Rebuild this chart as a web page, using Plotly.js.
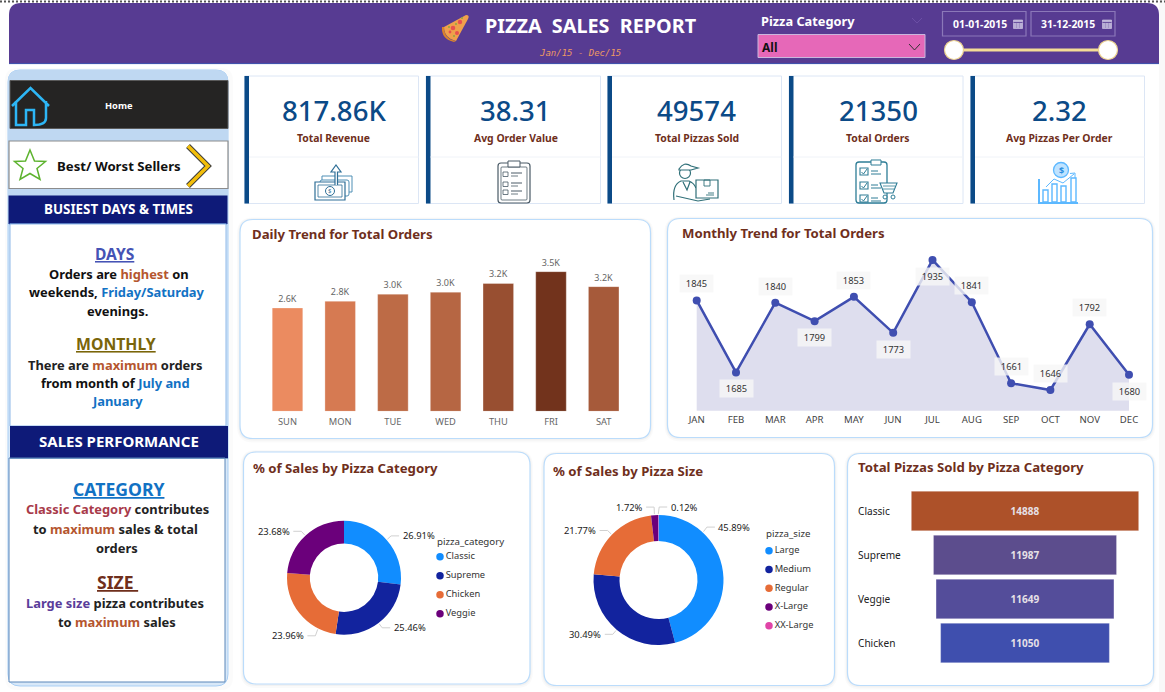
<!DOCTYPE html>
<html><head><meta charset="utf-8">
<script src="https://cdn.plot.ly/plotly-3.0.1.min.js"></script>
<style>html,body{margin:0;padding:0;background:#fff;overflow:hidden}#g{width:1165px;height:692px}</style>
</head><body><div id="g"></div>
<script>
// ---------- data ----------
const days = ["SUN","MON","TUE","WED","THU","FRI","SAT"];
const dayOrders = [2620,2790,2970,3020,3240,3540,3160];
const dayLabels = ["2.6K","2.8K","3.0K","3.0K","3.2K","3.5K","3.2K"];
const dayColors = ["#EB8B60","#D67A52","#BD6B46","#B66643","#984F31","#72331C","#A65A3A"];
const months = ["JAN","FEB","MAR","APR","MAY","JUN","JUL","AUG","SEP","OCT","NOV","DEC"];
const monthOrders = [1845,1685,1840,1799,1853,1773,1935,1841,1661,1646,1792,1680];
const monthLabelAbove = [1,0,1,0,1,0,0,1,1,1,1,0];
const catNames = ["Classic","Supreme","Chicken","Veggie"];
const catShares = [26.91,25.46,23.96,23.68];
const catColors = ["#118DFF","#12239E","#E66C37","#6B007B"];
const sizeNames = ["Large","Medium","Regular","X-Large","XX-Large"];
const sizeShares = [45.89,30.49,21.77,1.72,0.12];
const sizeColors = ["#118DFF","#12239E","#E66C37","#6B007B","#E044A7"];
const funnelCats = ["Classic","Supreme","Veggie","Chicken"];
const funnelVals = [14888,11987,11649,11050];
const funnelColors = ["#AD5129","#5C4D8D","#544D9A","#3F4FAE"];
const kpiValues = ["817.86K","38.31","49574","21350","2.32"];
const kpiNames = ["Total Revenue","Avg Order Value","Total Pizzas Sold","Total Orders","Avg Pizzas Per Order"];

// ---------- helpers ----------
const W=1165,H=692,FONT='"Noto Sans","Open Sans",sans-serif';
const fx=x=>x/W, fy=y=>1-y/H;
const shapes=[],annos=[];
const pathOf=d=>d.replace(/(-?[\d.]+)[ ,](-?[\d.]+)/g,(m,a,b)=>fx(+a).toFixed(5)+","+fy(+b).toFixed(5));
function P(d,o={}){shapes.push({type:"path",xref:"paper",yref:"paper",path:pathOf(d),fillcolor:o.fill||"rgba(0,0,0,0)",opacity:o.op==null?1:o.op,line:{color:o.stroke||"rgba(0,0,0,0)",width:o.w==null?(o.stroke?1:0):o.w},layer:"below"});}
function R(x0,y0,x1,y1,o={}){shapes.push({type:"rect",xref:"paper",yref:"paper",x0:fx(x0),x1:fx(x1),y0:fy(y0),y1:fy(y1),fillcolor:o.fill||"rgba(0,0,0,0)",opacity:o.op==null?1:o.op,line:{color:o.stroke||"rgba(0,0,0,0)",width:o.w==null?(o.stroke?1:0):o.w},layer:"below"});}
function C(cx,cy,r,o={}){shapes.push({type:"circle",xref:"paper",yref:"paper",x0:fx(cx-r),x1:fx(cx+r),y0:fy(cy-r),y1:fy(cy+r),fillcolor:o.fill||"rgba(0,0,0,0)",line:{color:o.stroke||"rgba(0,0,0,0)",width:o.w==null?(o.stroke?1:0):o.w},layer:"below"});}
function L(x0,y0,x1,y1,color,w,dash){shapes.push({type:"line",xref:"paper",yref:"paper",x0:fx(x0),x1:fx(x1),y0:fy(y0),y1:fy(y1),line:{color,width:w||1,dash:dash||"solid"},layer:"below"});}
function rr(x0,y0,x1,y1,tl,tr,br,bl){
  if(tr==null){tr=br=bl=tl;}
  return `M${x0+tl} ${y0} L${x1-tr} ${y0} Q${x1} ${y0} ${x1} ${y0+tr} L${x1} ${y1-br} Q${x1} ${y1} ${x1-br} ${y1} L${x0+bl} ${y1} Q${x0} ${y1} ${x0} ${y1-bl} L${x0} ${y0+tl} Q${x0} ${y0} ${x0+tl} ${y0} Z`;
}
function T(x,y,text,size,color,anchor,extra){annos.push(Object.assign({xref:"paper",yref:"paper",x:fx(x),y:fy(y),text,showarrow:false,xanchor:anchor||"center",yanchor:"middle",align:anchor||"center",borderpad:0,font:{family:FONT,size,color}},extra||{}));}
function card(x0,y0,x1,y1,r){
  P(rr(x0-3,y0-2,x1+3,y1+4,r+3),{fill:"#000",op:0.02});
  P(rr(x0-1.5,y0-1,x1+1.5,y1+2,r+1),{fill:"#000",op:0.03});
  P(rr(x0,y0,x1,y1,r),{fill:"#fff",stroke:"#BBDCFB",w:1.2});
}

// ---------- page furniture ----------
R(1159,0,1165,692,{fill:"#F9F9F9"});
L(0,1.5,1165,1.5,"#555",2,"2px,2px");
P(rr(9,3,1159,64,12,12,0,0),{fill:"#573B92"});
L(9,63.6,1159,63.6,"#3E55B0",1);
// pizza icon
P("M444 27 L466 15 Q470 15 468 19 L456 41 Q444 38 444 27 Z",{fill:"#F0A04B"});
P("M444 27 Q444 39 456 41 L454 42 Q441 39 442 27 Z",{fill:"#D9822B"});
[[453,28,2.3],[460,22,2.2],[457,33,2],[450,32,1.4]].forEach(c=>C(c[0],c[1],c[2],{fill:"#E8504F"}));
[[456,24,1],[462,18,1],[449,27,1],[454,36,1]].forEach(c=>C(c[0],c[1],c[2],{fill:"#8FA63E"}));
T(591,25.5,"<b>PIZZA  SALES  REPORT</b>",19.8,"#fff","center");
T(580,53,"<i>Jan/15 - Dec/15</i>",9,"#EE9A62","center");
annos[annos.length-1].font.family='"DejaVu Sans Mono",monospace';
T(759.5,20.5,"<b>Pizza Category</b>",12.8,"#fff","left");
P("M912 18 L917 23 L922 18",{stroke:"#6C4FA6",w:1});
R(758,34.5,925,57.5,{fill:"#E668B8",stroke:"#C9B6DE",w:1});
T(761,47.5,"<b>All</b>",12,"#111","left");
P("M909 44 L914.5 50 L920 44",{stroke:"#333",w:1});
R(942.5,11.5,1026,36,{stroke:"#8B78B9",w:1.2});
R(1031,11.5,1115,36,{stroke:"#8B78B9",w:1.2});
T(979.5,24,"<b>01-01-2015</b>",10.4,"#fff");
T(1068,24,"<b>31-12-2015</b>",10.4,"#fff");
[1013.5,1102.5].forEach(x=>{R(x,20,x+9,28.5,{fill:"#B9AFD6",stroke:"#D8D0E8",w:.6});L(x,22.5,x+9,22.5,"#573B92",.8);L(x+3,23,x+3,28,"#8A7BB5",.5);L(x+6,23,x+6,28,"#8A7BB5",.5);});
L(954,50,1108,50,"#F4DD96",3);
[954,1108].forEach(x=>C(x,50,9.5,{fill:"#fff",stroke:"#EBD28F",w:1.2}));

// sidebar
P(rr(5,68,233,690,12),{fill:"#000",op:0.015});
P(rr(8,70,228,686,12),{fill:"#D8E8F8",stroke:"#A9CFF5",w:1});
P(rr(8,70,228,200,12,12,0,0),{fill:"#BFD8F2"});
R(10,80.5,228,128.5,{fill:"#252423",stroke:"#5A5A5A",w:1});
P("M12 106 L30.5 88 L49 106 M16 101 L16 125 L26 125 L26 110 L34 110 L34 125 Q46 125 46 118 L46 101",{stroke:"#2DB6F5",w:2.5});
T(118.5,105,"<b>Home</b>",9.3,"#fff");
R(9,141,228,188.5,{fill:"#fff",stroke:"#8C8C8C",w:1.2});
P("M30 150 L34.5 161 L45.5 161.5 L37 168.5 L40 179.5 L30 173.5 L20 179.5 L23 168.5 L14.500 161.500 L25.500 161 Z",{stroke:"#5DB32E",w:1.5});
P("M188 146 L208 166 L188 186",{stroke:"#3A3A3A",w:5.5});
P("M188 146 L208 166 L188 186",{stroke:"#F2BE0A",w:3.5});
T(118.5,166,"<b>Best/ Worst Sellers</b>",13.2,"#111");
R(8.500,195.5,227.500,224,{fill:"#0E1A78"});
L(9,224,227,224,"#3E6CC0",1);
T(118,209,"<b>BUSIEST DAYS &amp; TIMES</b>",13.4,"#fff");
R(10,224,226,426,{fill:"#fff",stroke:"#8EB8E8",w:1});
R(10,426,228,458,{fill:"#0E1A78"});
T(118.5,441,"<b>SALES PERFORMANCE</b>",15,"#fff");
R(9,458,225,682,{fill:"#fff",stroke:"#5B86B8",w:1});
R(10,458,228,458.8,{fill:"#5B86B8"});
const org='#B5562F',blu='#1272C4';
const sp=(c,t)=>`<span style="color:${c}">${t}</span>`;
const BODY=12.9;
T(114.5,253.5,"<b><u>DAYS</u></b>",15.6,"#4553B5");
T(118.5,273.5,"<b>Orders are "+sp(org,"highest")+" on</b>",BODY,"#111");
T(117,292,"<b>weekends, "+sp(blu,"Friday/Saturday")+"</b>",BODY,"#111");
T(117,310.5,"<b>evenings.</b>",BODY,"#111");
T(116,344.5,"<b><u>MONTHLY</u></b>",15.8,"#7A6509");
T(115,364.5,"<b>There are "+sp(org,"maximum")+" orders</b>",BODY,"#222");
T(115.5,382.5,"<b>from month of "+sp(blu,"July and")+"</b>",BODY,"#111");
T(117,401,"<b>"+sp(blu,"January")+"</b>",BODY,"#111");
T(119,488.5,"<b><u>CATEGORY</u></b>",17.6,"#1272C4");
T(117,509.5,"<b>"+sp("#A83A4A","Classic Category")+" contributes</b>",BODY,"#222");
T(115,528.5,"<b>to "+sp(org,"maximum")+" sales &amp; total</b>",BODY,"#222");
T(117,547.5,"<b>orders</b>",BODY,"#222");
T(117,581.5,"<b><u>SIZE </u></b>",17.6,"#6F2F1C");
T(115,602.5,"<b>"+sp("#5A3D9A","Large size")+" pizza contributes</b>",BODY,"#222");
T(117,621.5,"<b>to "+sp(org,"maximum")+" sales</b>",BODY,"#222");

// KPI cards
const kpiX=[[244.5,418.5],[426,600.5],[607.5,781.5],[789,963],[970.5,1144.5]];
kpiX.forEach((k,i)=>{
  R(k[0],76,k[1],203.5,{fill:"#fff",stroke:"#DCE6F5",w:1});
  R(k[0],76,k[0]+4.5,203.5,{fill:"#0B4A87"});
  L(k[0]+4.5,157,k[1],157,"#F0F3F8",1);
  const cx=(k[0]+4.5+k[1])/2;
  T(cx,110,kpiValues[i],27.6,"#0B4A87");
  annos[annos.length-1].font.weight=500;
  T(cx,138,"<b>"+kpiNames[i]+"</b>",10.4,"#6F2F1C");
});
// KPI icons (simplified outlines)
(function(){
  const a="#2F6F97";
  P(rr(320,180,349,196,2,2,2,2),{stroke:"#4E8FB5",w:1});
  P("M322 176 L352 176 L352 192 L349 192 M322 176 L322 180",{stroke:"#4E8FB5",w:1});
  R(315,182,345,200,{fill:"#fff",stroke:a,w:1.2});R(318,185,342,197,{stroke:a,w:.8});
  C(330,191,4.5,{stroke:a,w:1}); T(330,191,"$",6,a);
  P("M335 185 L335 172 L331 172 L336 165 L341 172 L337.500 172 L337.500 185",{fill:"#fff",stroke:a,w:1.2});

  const b="#4A5A66";
  P(rr(498,163,530,203,3),{fill:"#fff",stroke:b,w:1.2});
  P(rr(501,167,527,200,1),{stroke:b,w:.8});
  P("M508 167 L508 161 L520 161 L520 167 Z",{fill:"#fff",stroke:b,w:1});
  [174,184,192].forEach(y=>{R(503,y-2,508,y+2.5,{stroke:b,w:.8});L(511,y-1,522,y-1,b,1);L(511,y+2,518,y+2,b,.8);});

  const c="#2F6F78";
  C(685,173,5.5,{stroke:c,w:1.2});
  P("M679 169 Q684 161 691 166 L698 168 L691 170 L679 170 Z",{fill:"#fff",stroke:c,w:1.2});
  P("M674 200 Q672 185 681 181 L689 181 Q694 183 696 188 M676 196 L698 201 L710 199 M683 182 L687 190 L690 182",{stroke:c,w:1.2});
  R(696,180,718,198,{fill:"#fff",stroke:c,w:1.2});
  R(704,180,710,186,{stroke:c,w:.9});L(708,193,714,193,c,.9);L(706,195,714,195,c,.9);

  const d="#2E7D96";
  P(rr(856,162,887,203,3),{fill:"#fff",stroke:d,w:1.3});
  P("M871 160 L881 160 L881 165 L871 165 Z",{fill:"#fff",stroke:d,w:1});
  [172,186,199].forEach(y=>{R(860,y-4,868,y+3,{stroke:d,w:1.1});P(`M861.500 ${y} L863.500 ${y+2} L867 ${y-3}`,{stroke:d,w:1});L(871,y-1,878,y-1,d,1);L(871,y+2,881,y+2,d,1);});
  P("M880 183 L897 183 L893 193 L884 193 Z",{fill:"#fff",stroke:d,w:1.1});
  L(883,186,895,186,d,.8);L(883,189,894,189,d,.8);
  C(885,197,2,{fill:"#fff",stroke:d,w:1});C(893,197,2,{fill:"#fff",stroke:d,w:1});

  const e="#5CB8FF";
  L(1038,203,1078,203,e,2);L(1039,179,1039,203,e,2);
  R(1043,190,1048,202,{stroke:e,w:1.4});R(1052,184,1057,202,{stroke:e,w:1.4});R(1061,186,1066,202,{stroke:e,w:1.4});R(1071,178,1076,202,{stroke:e,w:1.4});
  C(1061,170,7.5,{fill:"#BFE3FF",stroke:e,w:1.3});T(1061,170,"<b>$</b>",9,"#2A8FE0");
  P("M1046 187 L1054 179 L1063 183 L1074 174 M1070 173.500 L1075 173 L1075 178",{stroke:e,w:1});
})();

// chart cards
card(240,219.5,650.5,438.5,13);
card(667.5,218.5,1152.5,437.5,13);
card(243.5,452,530,684,13);
card(544,453.5,834.5,685.5,13);
card(847.5,453.5,1153.5,685.5,13);
const titleC="#6F2F1C",TS=13.2;
T(251,234,"<b>Daily Trend for Total Orders</b>",TS,titleC,"left");
T(681,233,"<b>Monthly Trend for Total Orders</b>",TS,titleC,"left");
T(252,468,"<b>% of Sales by Pizza Category</b>",TS,titleC,"left");
T(552,471,"<b>% of Sales by Pizza Size</b>",TS,titleC,"left");
T(857,467,"<b>Total Pizzas Sold by Pizza Category</b>",TS,titleC,"left");

// ---------- traces ----------
const traces=[];
traces.push({type:"bar",x:days,y:dayOrders,text:dayLabels,textposition:"outside",cliponaxis:false,
  textfont:{family:FONT,size:9,color:"#666"},marker:{color:dayColors,line:{color:dayColors.map(()=> "rgba(255,255,255,0.3)"),width:1}},
  xaxis:"x",yaxis:"y",hoverinfo:"skip"});
traces.push({type:"scatter",mode:"lines+markers",x:months,y:monthOrders,fill:"tozeroy",fillcolor:"#DEDEEE",
  line:{color:"#3F4EB0",width:2.5},marker:{color:"#3F4EB0",size:8},xaxis:"x2",yaxis:"y2",cliponaxis:false,hoverinfo:"skip"});
traces.push({type:"funnel",orientation:"h",y:funnelCats,x:funnelVals,text:funnelVals.map(String),textinfo:"text",textposition:"inside",insidetextanchor:"middle",
  textfont:{family:FONT,size:10,color:"#E6E0E6",weight:700},constraintext:"none",
  marker:{color:funnelColors,line:{color:"rgba(255,255,255,0.3)",width:1}},connector:{visible:false},xaxis:"x3",yaxis:"y3",hoverinfo:"skip"});

function donut(labels,values,colors,cx,cy,r){
  traces.push({type:"pie",labels,values,sort:false,direction:"clockwise",rotation:0,hole:0.6,textinfo:"none",
    marker:{colors,line:{width:0}},showlegend:false,hoverinfo:"skip",
    domain:{x:[fx(cx-r),fx(cx+r)],y:[fy(cy+r),fy(cy-r)]}});
}
function sliceLabels(values,cx,cy,r,overrides){
  const tot=values.reduce((a,b)=>a+b,0);let acc=0;
  values.forEach((v,i)=>{
    const ov=(overrides&&overrides[i])||{};
    let ang=(acc+v/2)/tot*2*Math.PI;acc+=v;
    if(ov.angle!=null)ang=ov.angle*Math.PI/180;
    const s=Math.sin(ang),c=Math.cos(ang),right=s>=0;
    const x1=cx+(r+1)*s,y1=cy-(r+1)*c;
    const x2=cx+(r+6)*s+(ov.dx||0),y2=cy-(r+6)*c+(ov.dy||0);
    const dirR=ov.right==null?right:ov.right;
    const x3=x2+(dirR?8:-8);
    P(`M${x1.toFixed(1)} ${y1.toFixed(1)} L${x2.toFixed(1)} ${y2.toFixed(1)} L${x3.toFixed(1)} ${y2.toFixed(1)}`,{stroke:"#D0D0D0",w:1});
    T(x3+(dirR?2.5:-2.5),y2,v.toFixed(2)+"%",9.4,"#222",dirR?"left":"right");
  });
}
donut(catNames,catShares,catColors,344,577.7,57);
donut(sizeNames,sizeShares,sizeColors,658.5,580,65);
sliceLabels(catShares,344,577.7,57,{2:{angle:207,dy:2}});
sliceLabels(sizeShares,658.5,580,65,{0:{angle:43,dy:-1},3:{right:false,dy:-2},4:{right:true,dx:1,dy:-2}});

function legendTrace(names,colors,xa,ya){
  traces.push({type:"scatter",mode:"markers+text",x:names.map(()=>0),y:names.map((n,i)=>i),text:names,textposition:"middle right",
    textfont:{family:FONT,size:9.3,color:"#333"},marker:{color:colors,size:7.5},xaxis:xa,yaxis:ya,cliponaxis:false,hoverinfo:"skip"});
}
legendTrace(catNames,catColors,"x4","y4");
legendTrace(sizeNames,sizeColors,"x5","y5");
T(435.5,541,"pizza_category",9.7,"#333","left");
T(764.5,533.5,"pizza_size",9.7,"#333","left");

// left-aligned funnel row labels & month value labels, positioned by the chart's own axes
funnelCats.forEach(c=>annos.push({xref:"paper",x:fx(855.5),yref:"y3",y:c,text:c,showarrow:false,xanchor:"left",yanchor:"middle",font:{family:FONT,size:10.1,color:"#222"}}));
monthOrders.forEach((v,i)=>annos.push({xref:"x2",x:months[i],yref:"y2",y:v,yshift:monthLabelAbove[i]?16.5:-16.5,text:String(v),showarrow:false,xanchor:"center",yanchor:"middle",
  width:31,height:15,bgcolor:"rgba(246,246,246,0.8)",font:{family:FONT,size:9.3,color:"#333"}}));

const layout={width:W,height:H,margin:{l:0,r:0,t:0,b:0},paper_bgcolor:"#fff",plot_bgcolor:"rgba(0,0,0,0)",showlegend:false,
  font:{family:FONT},shapes,annotations:annos,bargap:0.42,funnelgap:0.1,
  xaxis:{domain:[fx(261.15),fx(630.05)],type:"category",range:[-0.5,6.5],showgrid:false,zeroline:false,showline:false,ticks:"",ticklabelstandoff:3,tickfont:{family:FONT,size:9.3,color:"#666"},fixedrange:true,anchor:"y"},
  yaxis:{domain:[fy(411.3),fy(253.5)],range:[0,4000],visible:false,fixedrange:true,anchor:"x"},
  xaxis2:{domain:[fx(677.05),fx(1148.65)],type:"category",range:[-0.5,11.5],showgrid:false,zeroline:false,showline:false,ticks:"",ticklabelstandoff:2,tickfont:{family:FONT,size:9.6,color:"#444"},fixedrange:true,anchor:"y2"},
  yaxis2:{domain:[fy(410.7),fy(230.7)],range:[1600,2000],visible:false,fixedrange:true,anchor:"x2"},
  xaxis3:{domain:[fx(909),fx(1141)],range:[-7595,7595],visible:false,fixedrange:true,anchor:"y3"},
  yaxis3:{domain:[fy(665),fy(489)],type:"category",autorange:"reversed",visible:false,fixedrange:true,anchor:"x3"},
  xaxis4:{domain:[fx(440),fx(500)],range:[0,1],visible:false,fixedrange:true,anchor:"y4"},
  yaxis4:{domain:[fy(556.7+3.5*19),fy(556.7-0.5*19)],range:[3.5,-0.5],visible:false,fixedrange:true,anchor:"x4"},
  xaxis5:{domain:[fx(769),fx(829)],range:[0,1],visible:false,fixedrange:true,anchor:"y5"},
  yaxis5:{domain:[fy(550.7+4.5*18.75),fy(550.7-0.5*18.75)],range:[4.5,-0.5],visible:false,fixedrange:true,anchor:"x5"}
};
Plotly.newPlot("g",traces,layout,{displayModeBar:false,staticPlot:true,responsive:false});
</script></body></html>
